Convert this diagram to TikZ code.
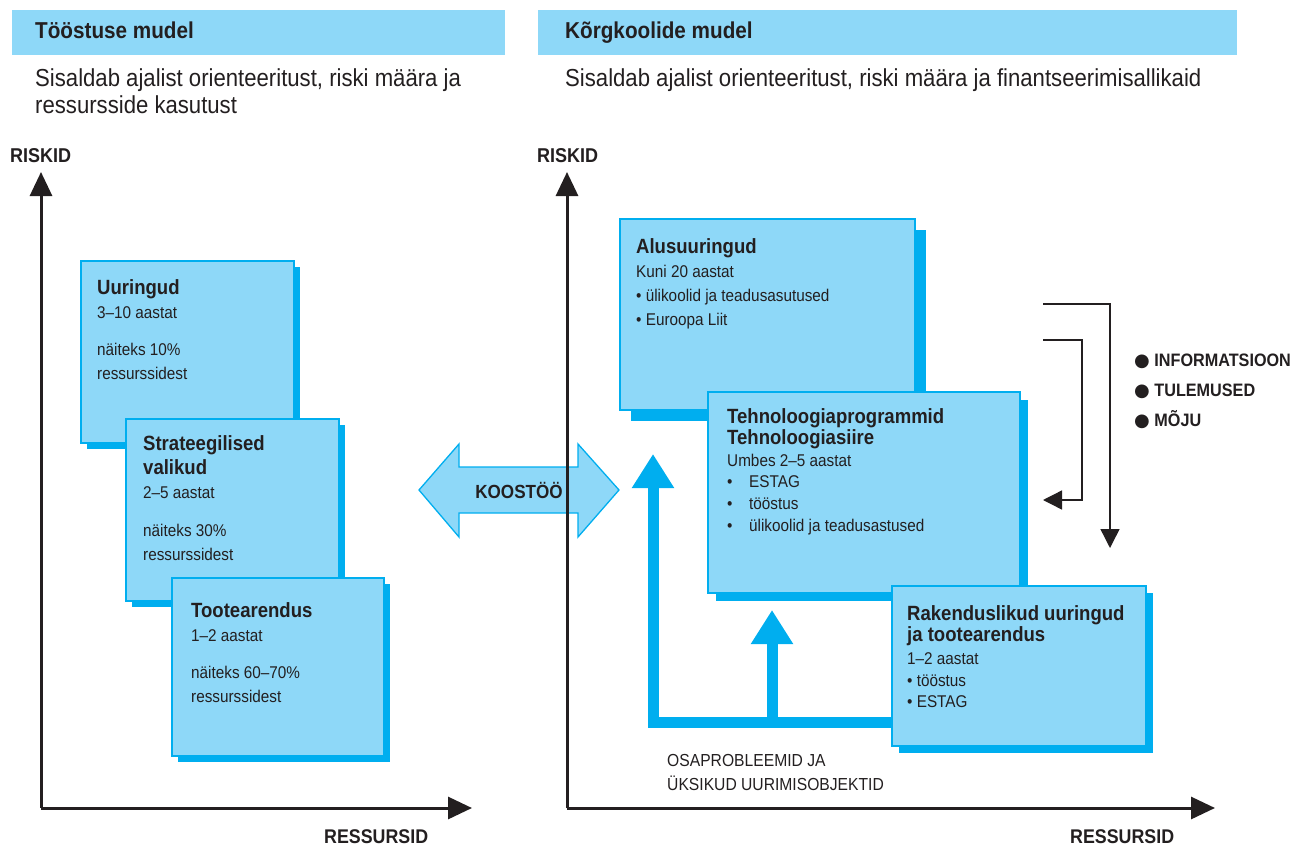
\documentclass[tikz,border=0pt]{standalone}
\usepackage{fontspec}
\setmainfont{Liberation Sans}[FakeStretch=0.9]
\newfontfamily\dvfont{DejaVu Sans}
\usetikzlibrary{arrows.meta,shadows}
\definecolor{lblue}{HTML}{8ED8F8}
\definecolor{cblue}{HTML}{00AEEF}
\definecolor{ink}{HTML}{231F20}
\newcommand{\fsz}[2]{\fontsize{#1}{#2}\selectfont}
\newcommand{\bul}[1]{\makebox[#1][l]{\textbullet}}
\newcommand{\mylines}[1]{\begin{tabular}[t]{@{}l@{}}#1\end{tabular}}
\begin{document}
\begin{tikzpicture}[x=1pt,y=-1pt,
  box/.style={draw=cblue, line width=1.5pt, fill=lblue, anchor=north west, inner sep=0pt},
  shad/.style={general shadow={fill=cblue, shadow xshift=#1pt, shadow yshift=-#1pt}},
  txt/.style={anchor=base west, inner sep=0pt, text=ink},
  hbar/.style={fill=lblue, draw=none, anchor=north west, inner sep=0pt},
  axis/.style={draw=ink, line width=3pt, -{Triangle[length=24pt,width=22pt]}},
  thin/.style={draw=ink, line width=1.4pt, -{Triangle[length=19pt,width=19pt]}},
  bluearrow/.style={draw=cblue, line width=11pt, line join=miter, -{Triangle[length=34pt,width=40pt]}},
]
\useasboundingbox (0,0) rectangle (1299,846);

% header bars
\node[hbar, minimum width=493pt, minimum height=45pt] (hl) at (12,10) {};
\node[hbar, minimum width=699pt, minimum height=45pt] (hr) at (538,10) {};
\node[txt, font=\fsz{23}{26}\bfseries] (hlt) at (35,38) {Tööstuse mudel};
\node[txt, font=\fsz{23}{26}\bfseries] (hrt) at (565,38) {Kõrgkoolide mudel};
\node[txt, font=\fsz{24.6}{27}] (sl) at (35,86) {\mylines{Sisaldab ajalist orienteeritust, riski määra ja\\ressursside kasutust}};
\node[txt, font=\fsz{24.6}{27}] (sr) at (565,86) {Sisaldab ajalist orienteeritust, riski määra ja finantseerimisallikaid};

% axis labels
\node[txt, font=\fsz{20}{22}\bfseries] (rl) at (10,162) {RISKID};
\node[txt, font=\fsz{20}{22}\bfseries] (rr) at (537,162) {RISKID};
\node[txt, font=\fsz{19.8}{22}\bfseries] (xl) at (324,843) {RESSURSID};
\node[txt, font=\fsz{19.8}{22}\bfseries] (xr) at (1070,843) {RESSURSID};

% left boxes
\node[box, shad=6, minimum width=213pt, minimum height=182pt] (uur) at (80,260) {};
\node[txt, font=\fsz{17}{24}] (uurT) at (97,294) {\mylines{{\fsz{20.6}{24}\bfseries Uuringud}\\3–10 aastat\\[13pt]näiteks 10\%\\ressurssidest}};
\node[box, shad=6, minimum width=213pt, minimum height=182pt] (str) at (125,418) {};
\node[txt, font=\fsz{17}{24}] (strT) at (143,450) {\mylines{{\fsz{20.6}{24}\bfseries Strateegilised}\\{\fsz{20.6}{24}\bfseries valikud}\\2–5 aastat\\[14pt]näiteks 30\%\\ressurssidest}};
\node[box, shad=6, minimum width=212pt, minimum height=178pt] (toot) at (171,577) {};
\node[txt, font=\fsz{17}{24}] (tootT) at (191,617) {\mylines{{\fsz{20.6}{24}\bfseries Tootearendus}\\1–2 aastat\\[13pt]näiteks 60–70\%\\ressurssidest}};

% left axes
\coordinate (lo) at (41,808);
\coordinate (ly) at (41,172);
\coordinate (lx) at (472,808);
\draw[axis] (lo) -- (ly);
\draw[axis] (lo) -- (lx);

% koostoo double arrow
\draw[fill=lblue, draw=cblue, line width=1.3pt] (419,490) -- (459,444) -- (459,467) -- (578,467) -- (578,444) -- (619,490) -- (578,537) -- (578,513) -- (459,513) -- (459,537) -- cycle;
\node[font=\fsz{19}{20}\bfseries, text=ink] (koos) at (519,490) {KOOSTÖÖ};

% right axes
\coordinate (ro) at (567,808);
\coordinate (ry) at (567,172);
\coordinate (rx) at (1215,808);
\draw[axis] (ro) -- (ry);
\draw[axis] (ro) -- (rx);

% blue loop
\coordinate (lpA) at (891,722);
\coordinate (lpB) at (653,722);
\coordinate (lpTip) at (653,454);
\coordinate (mA) at (772,722);
\coordinate (mTip) at (772,610);
\draw[bluearrow] (lpA) -- (lpB) -- (lpTip);
\draw[bluearrow] (mA) -- (mTip);

% right boxes
\node[box, shad=11, minimum width=295pt, minimum height=191pt] (alus) at (619,218) {};
\node[txt, font=\fsz{17}{24}] (alusT) at (636,253) {\mylines{{\fsz{20.6}{24}\bfseries Alusuuringud}\\Kuni 20 aastat\\• ülikoolid ja teadusasutused\\• Euroopa Liit}};
\node[box, shad=8, minimum width=312pt, minimum height=201pt] (tech) at (707,391) {};
\node[txt, font=\fsz{17}{21.6}] (techT) at (727,423) {\mylines{{\fsz{20.6}{21.6}\bfseries Tehnoloogiaprogrammid}\\{\fsz{20.6}{21.6}\bfseries Tehnoloogiasiire}\\Umbes 2–5 aastat\\\bul{22pt}ESTAG\\\bul{22pt}tööstus\\\bul{22pt}ülikoolid ja teadusastused}};
\node[box, shad=7, minimum width=254pt, minimum height=160pt] (rak) at (891,585) {};
\node[txt, font=\fsz{17}{21.5}] (rakT) at (907,620) {\mylines{{\fsz{20.6}{21.5}\bfseries Rakenduslikud uuringud}\\{\fsz{20.6}{21.5}\bfseries ja tootearendus}\\[1.5pt]1–2 aastat\\• tööstus\\• ESTAG}};

\node[txt, font=\fsz{17.4}{24}] (osa) at (667,766) {\mylines{OSAPROBLEEMID JA\\ÜKSIKUD UURIMISOBJEKTID}};

% black feedback arrows
\coordinate (oA) at (1043,304);
\coordinate (oB) at (1110,548);
\coordinate (iA) at (1043,340);
\coordinate (iB) at (1082,500);
\coordinate (iC) at (1043,500);
\draw[thin] (oA) -| (oB);
\draw[thin] (iA) -| (iB) -- (iC);

\node[txt, font=\fsz{18}{30}\bfseries] (leg) at (1134,366) {\mylines{{\dvfont ●} INFORMATSIOON\\{\dvfont ●} TULEMUSED\\{\dvfont ●} MÕJU}};
\end{tikzpicture}
\end{document}
